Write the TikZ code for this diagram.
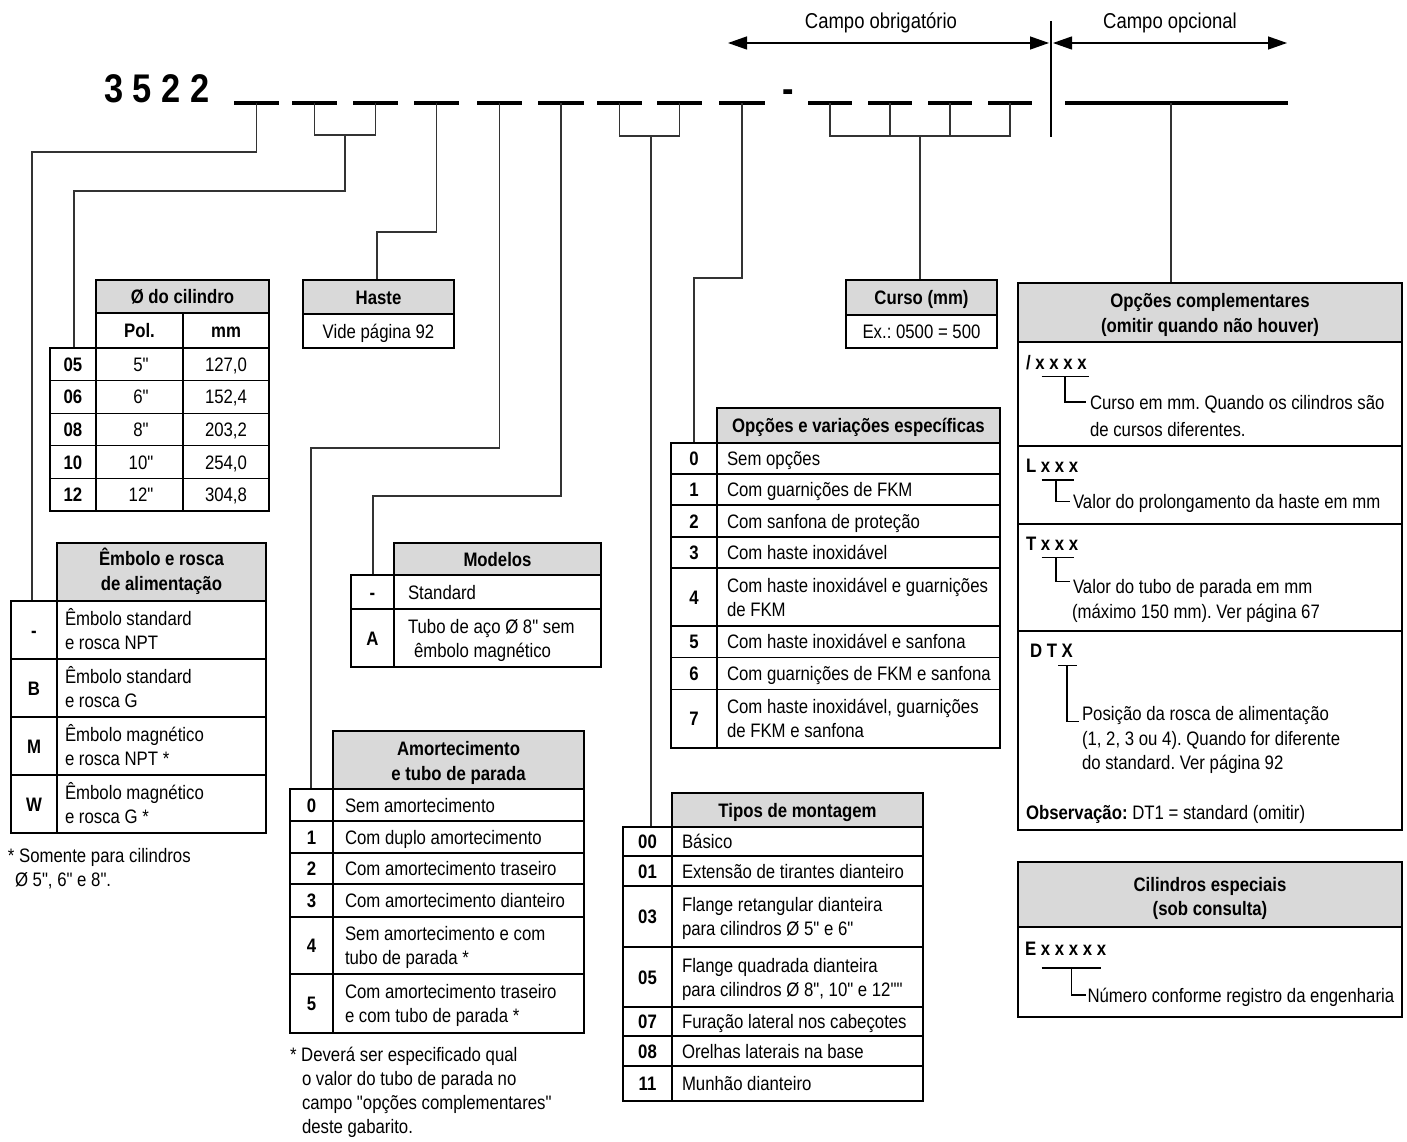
\documentclass[tikz,border=0pt]{standalone}
\usepackage{fontspec}
\setmainfont{Liberation Sans}[FakeStretch=0.86,Ligatures=TeXOff]
\usetikzlibrary{arrows.meta}
\newcommand\dfont{\fontsize{19.5}{24}\selectfont\frenchspacing}
\newcommand\TxL[4]{\node[lt] (#1) at (#2,#3) {#4};}
\newcommand\TxC[4]{\node[ct] (#1) at (#2,#3) {#4};}
\newcommand\TxB[4]{\node[ct,bf] (#1) at (#2,#3) {#4};}
\begin{document}
\frenchspacing
\begin{tikzpicture}[x=1pt,y=-1pt,
  every node/.style={inner sep=0pt,outer sep=0pt,font=\dfont},
  lt/.style={anchor=base west},
  ct/.style={anchor=base},
  bf/.style={font=\dfont\bfseries},
  tb/.style={line width=2.6pt},
  tn/.style={line width=1.2pt},
  cn/.style={line width=1.3pt,draw=black!80},
  hd/.style={fill=black!15},
  ul/.style={line width=3.2pt},
  hk/.style={line width=1.1pt},
  arr/.style={line width=1.3pt,{Triangle[length=19pt,width=13pt]}-{Triangle[length=19pt,width=13pt]}}]
\useasboundingbox (0,0) rectangle (1407,1142);

% ---------- top labels and arrows
\node[anchor=base,font=\fontsize{21.5}{26}\selectfont] (lobr) at (881,29) {Campo obrigatório};
\node[anchor=base,font=\fontsize{21.5}{26}\selectfont] (lopc) at (1170,29) {Campo opcional};
\coordinate (ob1) at (728,43); \coordinate (ob2) at (1049,43);
\coordinate (op1) at (1053,43); \coordinate (op2) at (1287,43);
\draw[arr] (ob1) -- (ob2);
\draw[arr] (op1) -- (op2);
\coordinate (sepT) at (1051,21); \coordinate (sepB) at (1051,137);
\draw[line width=1.5pt] (sepT) -- (sepB);

% ---------- code line
\node[anchor=base west,font=\fontsize{40}{48}\selectfont\bfseries] (title) at (104,103) {3 5 2 2};
\node[anchor=base,font=\fontsize{40}{48}\selectfont\bfseries] (dash) at (788,103) {-};
\foreach \a/\b [count=\i] in {234/279,292/337,353/398,414/459,477/522,538/584,597/642,657/702,719/765,808/852,868/912,928/972,988/1032}{
  \draw[ul] (\a,103) -- (\b,103);
  \coordinate (s\i) at ({(\a+\b)/2},103);
}
\draw[ul] (1065,103) -- (1288,103);
\coordinate (sL) at (1171,103);

% ---------- connector bends and table attach points
\coordinate (b1) at (32,152);   \coordinate (eT) at (32,601);
\coordinate (k23) at (345,135); \coordinate (b23) at (74,191); \coordinate (dT) at (74,348);
\coordinate (b4) at (377,232);  \coordinate (hT) at (377,280);
\coordinate (b5) at (311,448);  \coordinate (aT) at (311,789);
\coordinate (b6) at (373,496);  \coordinate (mT) at (373,575);
\coordinate (k78) at (651,136); \coordinate (tT) at (651,827);
\coordinate (b9) at (694,278);  \coordinate (oT) at (694,443);
\coordinate (kC) at (920,136);  \coordinate (cT) at (920,280);
\coordinate (ocT) at (1171,283);

\draw[cn] (s1) |- (b1) -- (eT);
\draw[cn] (s2) |- (k23) -| (s3);
\draw[cn] (k23) |- (b23) -- (dT);
\draw[cn] (s4) |- (b4) -- (hT);
\draw[cn] (s5) |- (b5) -- (aT);
\draw[cn] (s6) |- (b6) -- (mT);
\draw[cn] (s7) |- (k78) -| (s8);
\draw[cn] (k78) -- (tT);
\draw[cn] (s9) |- (b9) -- (oT);
\draw[cn] (s10) |- (kC) -| (s13);
\draw[cn] (s11) -- (s11 |- kC);
\draw[cn] (s12) -- (s12 |- kC);
\draw[cn] (kC) -- (cT);
\draw[cn] (sL) -- (ocT);

% ---------- Ø do cilindro
\fill[hd] (96,280) rectangle (269,313);
\draw[tn] (183,313) -- (183,511);
\foreach \y in {380.6,413.2,445.8,478.4} \draw[tn] (50,\y) -- (269,\y);
\draw[tb] (96,280) rectangle (269,348);
\draw[tb] (96,313) -- (269,313);
\draw[tb] (50,348) rectangle (269,511);
\draw[tb] (96,348) -- (96,511);
\TxB{dH}{182.5}{303.5}{Ø do cilindro}
\TxB{dP}{139.5}{337.5}{Pol.}
\TxB{dM}{226}{337.5}{mm}
\TxB{d1c}{73}{371.3}{05} \TxC{d1p}{141}{371.3}{5"}  \TxC{d1m}{226}{371.3}{127,0}
\TxB{d2c}{73}{403.9}{06} \TxC{d2p}{141}{403.9}{6"}  \TxC{d2m}{226}{403.9}{152,4}
\TxB{d3c}{73}{436.5}{08} \TxC{d3p}{141}{436.5}{8"}  \TxC{d3m}{226}{436.5}{203,2}
\TxB{d4c}{73}{469.1}{10} \TxC{d4p}{141}{469.1}{10"} \TxC{d4m}{226}{469.1}{254,0}
\TxB{d5c}{73}{501.7}{12} \TxC{d5p}{141}{501.7}{12"} \TxC{d5m}{226}{501.7}{304,8}

% ---------- Haste
\fill[hd] (303,280) rectangle (454,314);
\draw[tb] (303,280) rectangle (454,348);
\draw[tb] (303,314) -- (454,314);
\TxB{hH}{378.5}{304}{Haste}
\TxC{hV}{378.5}{338}{Vide página 92}

% ---------- Curso
\fill[hd] (846,280) rectangle (997,315);
\draw[tb] (846,280) rectangle (997,348);
\draw[tb] (846,315) -- (997,315);
\TxB{cH}{921.5}{304.5}{Curso (mm)}
\TxC{cV}{921.5}{338.5}{Ex.: 0500 = 500}

% ---------- Êmbolo e rosca de alimentação
\fill[hd] (57,543) rectangle (266,601);
\foreach \y in {659,717,775} \draw[tn] (11,\y) -- (266,\y);
\draw[tb] (57,543) rectangle (266,601);
\draw[tb] (11,601) rectangle (266,833);
\draw[tb] (57,601) -- (57,833);
\TxB{eH1}{161.5}{565.5}{Êmbolo e rosca}
\TxB{eH2}{161.5}{590.5}{de alimentação}
\TxB{e1c}{34}{637}{-} \TxL{e1a}{65}{625}{Êmbolo standard} \TxL{e1b}{65}{649}{e rosca NPT}
\TxB{e2c}{34}{695}{B} \TxL{e2a}{65}{683}{Êmbolo standard} \TxL{e2b}{65}{707}{e rosca G}
\TxB{e3c}{34}{753}{M} \TxL{e3a}{65}{741}{Êmbolo magnético} \TxL{e3b}{65}{765}{e rosca NPT *}
\TxB{e4c}{34}{811}{W} \TxL{e4a}{65}{799}{Êmbolo magnético} \TxL{e4b}{65}{823}{e rosca G *}
\TxL{eF1}{8}{862}{* Somente para cilindros}
\TxL{eF2}{15}{886}{Ø 5", 6" e 8".}

% ---------- Modelos
\fill[hd] (394,543) rectangle (601,575);
\draw[tn] (351,609) -- (601,609);
\draw[tb] (394,543) rectangle (601,575);
\draw[tb] (351,575) rectangle (601,667);
\draw[tb] (394,575) -- (394,667);
\TxB{mH}{497.5}{566}{Modelos}
\TxB{m1c}{372.5}{599}{-} \TxL{m1a}{408}{599}{Standard}
\TxB{m2c}{372.5}{645}{A} \TxL{m2a}{408}{633}{Tubo de aço Ø 8" sem} \TxL{m2b}{414}{657}{êmbolo magnético}

% ---------- Amortecimento e tubo de parada
\fill[hd] (333,731) rectangle (584,789);
\foreach \y in {821,853,884,917,974} \draw[tn] (290,\y) -- (584,\y);
\draw[tb] (333,731) rectangle (584,789);
\draw[tb] (290,789) rectangle (584,1033);
\draw[tb] (333,789) -- (333,1033);
\TxB{aH1}{458.5}{755}{Amortecimento}
\TxB{aH2}{458.5}{780}{e tubo de parada}
\TxB{a0c}{311.5}{812}{0}     \TxL{a0}{345}{812}{Sem amortecimento}
\TxB{a1c}{311.5}{844}{1}     \TxL{a1}{345}{844}{Com duplo amortecimento}
\TxB{a2c}{311.5}{875.5}{2}   \TxL{a2}{345}{875.5}{Com amortecimento traseiro}
\TxB{a3c}{311.5}{907.5}{3}   \TxL{a3}{345}{907.5}{Com amortecimento dianteiro}
\TxB{a4c}{311.5}{952.5}{4}   \TxL{a4a}{345}{940.5}{Sem amortecimento e com} \TxL{a4b}{345}{964.5}{tubo de parada *}
\TxB{a5c}{311.5}{1010.5}{5}  \TxL{a5a}{345}{998.5}{Com amortecimento traseiro} \TxL{a5b}{345}{1022.5}{e com tubo de parada *}
\TxL{aF1}{290}{1061}{* Deverá ser especificado qual}
\TxL{aF2}{302}{1085}{o valor do tubo de parada no}
\TxL{aF3}{302}{1109}{campo "opções complementares"}
\TxL{aF4}{302}{1133}{deste gabarito.}

% ---------- Opções e variações específicas
\fill[hd] (717,408) rectangle (1000,443);
\foreach \y in {474,505,537,568,626,657.5,689.5} \draw[tn] (671,\y) -- (1000,\y);
\draw[tb] (717,408) rectangle (1000,443);
\draw[tb] (671,443) rectangle (1000,748);
\draw[tb] (717,443) -- (717,748);
\TxB{oH}{858.5}{432.5}{Opções e variações específicas}
\TxB{o0c}{694}{465.5}{0} \TxL{o0}{727}{465.5}{Sem opções}
\TxB{o1c}{694}{496.5}{1} \TxL{o1}{727}{496.5}{Com guarnições de FKM}
\TxB{o2c}{694}{528}{2}   \TxL{o2}{727}{528}{Com sanfona de proteção}
\TxB{o3c}{694}{559.5}{3} \TxL{o3}{727}{559.5}{Com haste inoxidável}
\TxB{o4c}{694}{604}{4}   \TxL{o4a}{727}{592}{Com haste inoxidável e guarnições} \TxL{o4b}{727}{616}{de FKM}
\TxB{o5c}{694}{648.75}{5} \TxL{o5}{727}{648.75}{Com haste inoxidável e sanfona}
\TxB{o6c}{694}{680.5}{6}  \TxL{o6}{727}{680.5}{Com guarnições de FKM e sanfona}
\TxB{o7c}{694}{725.75}{7} \TxL{o7a}{727}{713.75}{Com haste inoxidável, guarnições} \TxL{o7b}{727}{737.75}{de FKM e sanfona}

% ---------- Tipos de montagem
\fill[hd] (672,793) rectangle (923,827);
\foreach \y in {856,886,947,1007,1036,1066} \draw[tn] (623,\y) -- (923,\y);
\draw[tb] (672,793) rectangle (923,827);
\draw[tb] (623,827) rectangle (923,1101);
\draw[tb] (672,827) -- (672,1101);
\TxB{tH}{797.5}{817}{Tipos de montagem}
\TxB{t0c}{647.5}{848.5}{00} \TxL{t0}{682}{848.5}{Básico}
\TxB{t1c}{647.5}{878}{01}   \TxL{t1}{682}{878}{Extensão de tirantes dianteiro}
\TxB{t3c}{647.5}{923.5}{03} \TxL{t3a}{682}{911.5}{Flange retangular dianteira} \TxL{t3b}{682}{935.5}{para cilindros Ø 5" e 6"}
\TxB{t5c}{647.5}{984}{05}   \TxL{t5a}{682}{972}{Flange quadrada dianteira} \TxL{t5b}{682}{996}{para cilindros Ø 8", 10" e 12""}
\TxB{t7c}{647.5}{1028.5}{07} \TxL{t7}{682}{1028.5}{Furação lateral nos cabeçotes}
\TxB{t8c}{647.5}{1058}{08}   \TxL{t8}{682}{1058}{Orelhas laterais na base}
\TxB{t11c}{647.5}{1090.5}{11} \TxL{t11}{682}{1090.5}{Munhão dianteiro}

% ---------- Opções complementares
\fill[hd] (1018,283) rectangle (1402,342);
\foreach \y in {446,524,631} \draw[tn] (1018,\y) -- (1402,\y);
\draw[tb] (1018,342) -- (1402,342);
\draw[tb] (1018,283) rectangle (1402,830);
\TxB{qH1}{1210}{307.5}{Opções complementares}
\TxB{qH2}{1210}{332}{(omitir quando não houver)}
\node[lt,bf] (q1k) at (1026,369) {/ x x x x};
\draw[hk] (1041.7,376.4) -- (1089.3,376.4);
\draw[hk] (1065,376.4) |- (1086,402);
\TxL{q1a}{1090}{409}{Curso em mm. Quando os cilindros são}
\TxL{q1b}{1090}{436}{de cursos diferentes.}
\node[lt,bf] (q2k) at (1026,472.5) {L x x x};
\draw[hk] (1041.7,480) -- (1074,480);
\draw[hk] (1056,480) |- (1070,501.4);
\TxL{q2a}{1073}{508.4}{Valor do prolongamento da haste em mm}
\node[lt,bf] (q3k) at (1026,550) {T x x x};
\draw[hk] (1041.7,557.5) -- (1074,557.5);
\draw[hk] (1056,557.5) |- (1070,581.4);
\TxL{q3a}{1073}{593}{Valor do tubo de parada em mm}
\TxL{q3b}{1072}{618}{(máximo 150 mm). Ver página 67}
\node[lt,bf] (q4k) at (1030,657) {D T X};
\draw[hk] (1058,665.7) -- (1077,665.7);
\draw[hk] (1067,665.7) |- (1079,721.8);
\TxL{q4a}{1082}{720}{Posição da rosca de alimentação}
\TxL{q4b}{1082}{745}{(1, 2, 3 ou 4). Quando for diferente}
\TxL{q4c}{1082}{769}{do standard. Ver página 92}
\TxL{q5}{1026}{819}{\textbf{Observação:} DT1 = standard (omitir)}

% ---------- Cilindros especiais
\fill[hd] (1018,862) rectangle (1402,927);
\draw[tb] (1018,927) -- (1402,927);
\draw[tb] (1018,862) rectangle (1402,1017);
\TxB{xH1}{1210}{891}{Cilindros especiais}
\TxB{xH2}{1210}{915}{(sob consulta)}
\node[lt,bf] (xk) at (1025,955) {E x x x x x};
\draw[hk] (1041.7,968) -- (1100.7,968);
\draw[hk] (1071.7,968) |- (1086,995);
\TxL{xa}{1087.5}{1002}{Número conforme registro da engenharia}
\end{tikzpicture}
\end{document}
